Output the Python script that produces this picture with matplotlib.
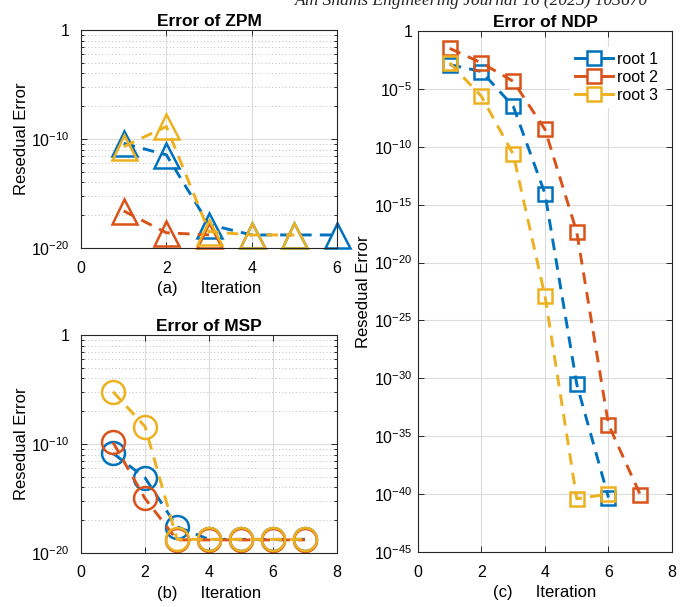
import numpy as np
import matplotlib
matplotlib.use('Agg')
import matplotlib.pyplot as plt
from matplotlib.lines import Line2D
from matplotlib.ticker import FixedLocator, NullFormatter

plt.rcParams['font.family'] = ['Liberation Sans', 'DejaVu Sans']
plt.rcParams['mathtext.fontset'] = 'custom'
plt.rcParams['mathtext.rm'] = 'Liberation Sans'
plt.rcParams['mathtext.it'] = 'Liberation Sans:italic'

# colours (MATLAB default order)
C1, C2, C3 = '#0072BD', '#D95319', '#EDB120'

# --- data: log10 of residual error ---
# (a) ZPM
zpm_it1 = [1, 2, 3, 4, 5, 6]
zpm_r1 = [-10.4, -11.45, -17.85, -18.8, -18.8, -18.8]
zpm_it2 = [1, 2, 3]
zpm_r2 = [-16.6, -18.6, -18.8]
zpm_it3 = [1, 2, 3, 4, 5]
zpm_r3 = [-10.7, -8.85, -18.5, -18.8, -18.8]

# (b) MSP
msp_it = [1, 2, 3, 4, 5, 6, 7]
msp_r1 = [-10.85, -13.1, -17.6, -18.75, -18.75, -18.75, -18.75]
msp_r2 = [-9.85, -15.0, -18.8, -18.8, -18.8, -18.8, -18.8]
msp_r3 = [-5.2, -8.4, -18.75, -18.75, -18.75, -18.75, -18.75]

# (c) NDP
ndp_it1 = [1, 2, 3, 4, 5, 6]
ndp_r1 = [-2.9, -3.5, -6.5, -14.05, -30.5, -40.3]
ndp_it2 = [1, 2, 3, 4, 5, 6, 7]
ndp_r2 = [-1.5, -2.75, -4.35, -8.5, -17.35, -34.0, -40.05]
ndp_it3 = [1, 2, 3, 4, 5, 6]
ndp_r3 = [-2.75, -5.65, -10.65, -22.9, -40.4, -40.0]

fig = plt.figure(figsize=(6.86, 6.07), dpi=100)

ax_a = fig.add_axes([0.1181, 0.5914, 0.3732, 0.3591])
ax_b = fig.add_axes([0.1181, 0.0890, 0.3732, 0.3591])
ax_c = fig.add_axes([0.6093, 0.0906, 0.3703, 0.8583])

DASH = (4.0, 2.8)
LW = 2.1


def draw(ax, it, vals, color, marker, ms):
    ax.plot(it, 10.0 ** np.array(vals), color=color, lw=LW, ls='--', dashes=DASH,
            marker=marker, ms=ms, mfc='none', mec=color, mew=1.8)


def style(ax, xmax, title, label, ypad):
    ax.set_yscale('log')
    ax.set_xlim(0, xmax)
    ax.set_xticks(np.arange(0, xmax + 1, 2))
    ax.set_title(title, fontsize=12.5, fontweight='bold', pad=3)
    ax.set_xlabel(label, fontsize=12, labelpad=4)
    ax.set_ylabel('Resedual Error', fontsize=12, labelpad=2)
    ax.tick_params(which='both', direction='in', top=True, right=True,
                   labelsize=11.5, width=0.7, color='#262626')
    ax.tick_params(which='major', length=4)
    ax.tick_params(which='minor', length=2)
    ax.tick_params(axis='x', which='major', pad=9)
    ax.tick_params(axis='y', which='major', pad=ypad)
    for sp in ax.spines.values():
        sp.set_linewidth(0.8)
        sp.set_color('#262626')
    ax.grid(True, which='major', color='#dcdcdc', lw=0.8)
    ax.set_axisbelow(True)


def left_axis(ax):
    ax.set_ylim(1e-20, 1)
    ax.set_yticks([1e-20, 1e-10, 1])
    ax.set_yticklabels(['$10^{-20}$', '$10^{-10}$', '1'])
    minors = [k ** 10 * 10.0 ** e for e in (-20, -10) for k in range(2, 10)]
    ax.yaxis.set_minor_locator(FixedLocator(minors))
    ax.yaxis.set_minor_formatter(NullFormatter())
    ax.grid(True, which='minor', axis='y', color='#bdbdbd', lw=0.7, ls=(0, (1, 2.5)))


# (a)
draw(ax_a, zpm_it1, zpm_r1, C1, '^', 18)
draw(ax_a, zpm_it2, zpm_r2, C2, '^', 18)
draw(ax_a, zpm_it3, zpm_r3, C3, '^', 18)
style(ax_a, 6, 'Error of ZPM', '(a)     Iteration', 8)
left_axis(ax_a)
for m in ax_a.lines:
    m.set_clip_on(False)

# (b)
draw(ax_b, msp_it, msp_r1, C1, 'o', 16.5)
draw(ax_b, msp_it, msp_r2, C2, 'o', 16.5)
draw(ax_b, msp_it, msp_r3, C3, 'o', 16.5)
style(ax_b, 8, 'Error of MSP', '(b)     Iteration', 8)
left_axis(ax_b)

# (c)
draw(ax_c, ndp_it1, ndp_r1, C1, 's', 9.5)
draw(ax_c, ndp_it2, ndp_r2, C2, 's', 9.5)
draw(ax_c, ndp_it3, ndp_r3, C3, 's', 9.5)
style(ax_c, 8, 'Error of NDP', '(c)     Iteration', 4)
ax_c.set_ylim(1e-45, 1)
yt = [10.0 ** e for e in range(-45, 1, 5)]
ax_c.set_yticks(yt)
ax_c.set_yticklabels(['1' if e == 0 else '$10^{%d}$' % e for e in range(-45, 1, 5)])
ax_c.yaxis.set_minor_locator(FixedLocator([]))

handles = [Line2D([], [], color=c, lw=LW, marker='s', ms=9.5, mfc='white', mec=c, mew=1.8)
           for c in (C1, C2, C3)]
leg = ax_c.legend(handles, ['root 1', 'root 2', 'root 3'], loc='upper right',
                  bbox_to_anchor=(0.995, 0.985), frameon=True, fontsize=11.5,
                  handlelength=2.4, handletextpad=0.25, labelspacing=0.2,
                  borderpad=0.3, fancybox=False)
leg.get_frame().set_edgecolor('none')
leg.get_frame().set_facecolor('white')
leg.get_frame().set_alpha(1)

# page header (partly cut off at top)
fig.text(0.43, 0.9915, 'Ain Shams Engineering Journal 16 (2025) 103670',
         family=['Liberation Serif', 'DejaVu Serif'], style='italic',
         fontsize=12.5, va='baseline', ha='left', color='#222222')

fig.savefig('out.png', dpi=100)
